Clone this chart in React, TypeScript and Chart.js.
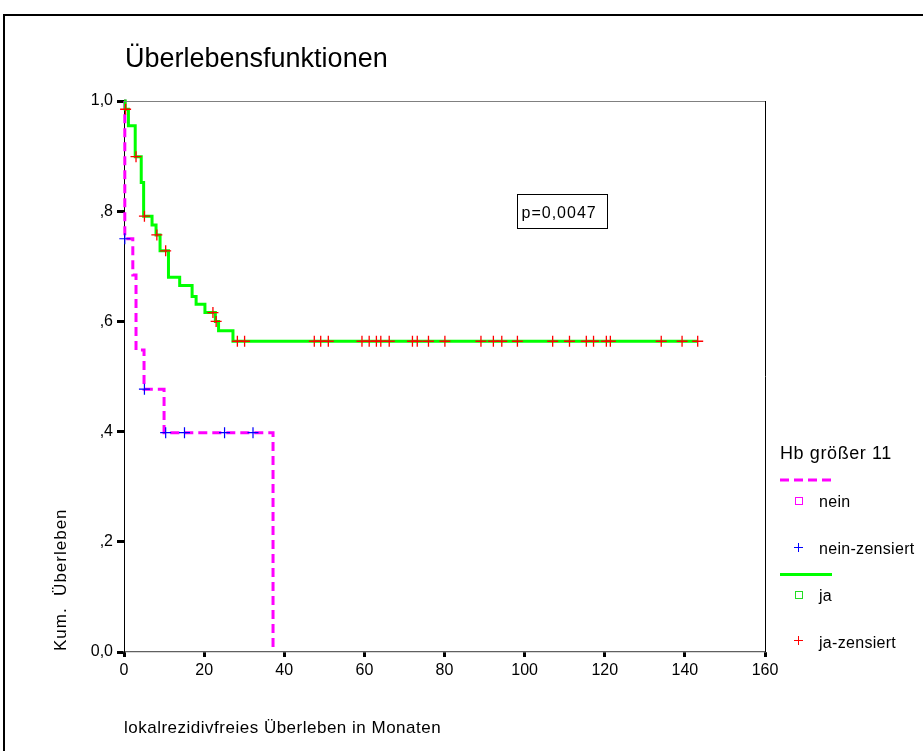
import React, { useEffect, useRef } from "react";
import { Chart, registerables } from "chart.js";

Chart.register(...registerables);

const FONT = "'Liberation Sans', Arial, Helvetica, sans-serif";

const TITLE = "Überlebensfunktionen";
const X_TITLE = "lokalrezidivfreies Überleben in Monaten";
const Y_TITLE = "Kum.  Überleben";
const LEGEND_TITLE = "Hb größer 11";
const P_TEXT = "p=0,0047";
const LEGEND_ITEMS = ["nein", "nein-zensiert", "ja", "ja-zensiert"];

const xTicks = [0, 20, 40, 60, 80, 100, 120, 140, 160];
const yTicks = [0, 0.2, 0.4, 0.6, 0.8, 1.0];
const yTickLabels = ["0,0", ",2", ",4", ",6", ",8", "1,0"];

// Hb größer 11 = nein
const neinTimes = [0, 0.2, 2.2, 3.0, 5.0, 10.0, 37.2];
const neinSurv = [1, 0.75, 0.684, 0.548, 0.477, 0.398, 0];
const neinCensTimes = [0.2, 5.1, 10.4, 15.1, 25.1, 32.2];
const neinCensSurv = [0.75, 0.477, 0.398, 0.398, 0.398, 0.398];

// Hb größer 11 = ja
const jaTimes = [0, 0.3, 1.1, 2.8, 4.3, 4.9, 7.0, 8.0, 9.0, 11.1, 13.9, 17.0, 18.0, 20.2, 22.8, 23.6, 27.2, 143.2];
const jaSurv = [1, 0.985, 0.955, 0.899, 0.852, 0.791, 0.775, 0.757, 0.728, 0.68, 0.665, 0.645, 0.631, 0.616, 0.6, 0.583, 0.564, 0.564];
const jaCensTimes = [
  0.4, 3.0, 5.1, 8.2, 10.4, 22.2, 23.0, 28.3, 30.1, 47.5, 49.1, 51.0, 59.4, 61.2, 63.0, 64.1, 66.2,
  72.0, 73.2, 76.0, 80.1, 89.1, 92.2, 94.3, 98.2, 107.0, 111.2, 115.4, 117.2, 120.4, 121.4, 134.1, 139.3, 143.2,
];
const jaCensSurv = [
  0.985, 0.899, 0.791, 0.757, 0.728, 0.616, 0.6, 0.564, 0.564, 0.564, 0.564, 0.564, 0.564, 0.564, 0.564, 0.564, 0.564,
  0.564, 0.564, 0.564, 0.564, 0.564, 0.564, 0.564, 0.564, 0.564, 0.564, 0.564, 0.564, 0.564, 0.564, 0.564, 0.564, 0.564,
];

const MAGENTA = "#ff00ff";
const GREEN = "#00ff00";
const RED = "#ff0000";
const BLUE = "#0000ff";

const pts = (xs: number[], ys: number[]) => xs.map((x, i) => ({ x, y: ys[i] }));

const decorPlugin = {
  id: "decor",
  afterDraw(chart: any) {
    const ctx = chart.ctx as CanvasRenderingContext2D;
    const a = chart.chartArea;
    const xs = chart.scales.x;
    const ys = chart.scales.y;
    ctx.save();
    // outer frame
    ctx.fillStyle = "#000";
    ctx.fillRect(3, 14, 920, 2);
    ctx.fillRect(3, 14, 2, 737);
    // plot frame top and right
    ctx.strokeStyle = "#808080";
    ctx.lineWidth = 1.2;
    ctx.beginPath();
    ctx.moveTo(a.left, a.top + 0.5);
    ctx.lineTo(a.right, a.top + 0.5);
    ctx.stroke();
    ctx.strokeStyle = "#000";
    ctx.lineWidth = 1;
    ctx.beginPath();
    ctx.moveTo(a.right + 0.5, a.top);
    ctx.lineTo(a.right + 0.5, a.bottom);
    ctx.stroke();

    // title
    ctx.fillStyle = "#000";
    ctx.textAlign = "left";
    ctx.textBaseline = "alphabetic";
    ctx.font = `27px ${FONT}`;
    ctx.fillText(TITLE, 125, 67);

    // x title
    (ctx as any).letterSpacing = "0.5px";
    ctx.font = `17px ${FONT}`;
    ctx.fillText(X_TITLE, 124, 733);

    // y title
    ctx.save();
    ctx.translate(66, 651);
    ctx.rotate(-Math.PI / 2);
    (ctx as any).letterSpacing = "1px";
    ctx.font = `17px ${FONT}`;
    ctx.fillText(Y_TITLE, 0, 0);
    ctx.restore();

    // p-value box
    const bx = Math.round(xs.getPixelForValue(98.2)) + 0.5;
    const by = Math.round(ys.getPixelForValue(0.831)) + 0.5;
    ctx.strokeStyle = "#000";
    ctx.lineWidth = 1;
    ctx.strokeRect(bx, by, 90, 34);
    (ctx as any).letterSpacing = "1px";
    ctx.font = `16px ${FONT}`;
    ctx.fillText(P_TEXT, bx + 4, by + 23);

    // legend
    (ctx as any).letterSpacing = "0.6px";
    ctx.font = `18px ${FONT}`;
    ctx.fillText(LEGEND_TITLE, 780, 459);

    ctx.setLineDash([9, 5]);
    ctx.strokeStyle = MAGENTA;
    ctx.lineWidth = 3;
    ctx.beginPath();
    ctx.moveTo(780, 480);
    ctx.lineTo(832, 480);
    ctx.stroke();
    ctx.setLineDash([]);

    ctx.strokeStyle = GREEN;
    ctx.beginPath();
    ctx.moveTo(780, 574.5);
    ctx.lineTo(832, 574.5);
    ctx.stroke();

    // squares
    ctx.lineWidth = 1;
    ctx.strokeStyle = MAGENTA;
    ctx.strokeRect(795.5, 497.5, 7, 7);
    ctx.strokeStyle = "#22dd22";
    ctx.strokeRect(795.5, 591.5, 7, 7);

    // crosses
    const cross = (cx: number, cy: number, col: string) => {
      ctx.strokeStyle = col;
      ctx.lineWidth = 1;
      ctx.beginPath();
      ctx.moveTo(cx - 4.5, cy);
      ctx.lineTo(cx + 4.5, cy);
      ctx.moveTo(cx, cy - 4.5);
      ctx.lineTo(cx, cy + 4.5);
      ctx.stroke();
    };
    cross(798.5, 547.5, BLUE);
    cross(798.5, 640.5, RED);

    ctx.fillStyle = "#000";
    (ctx as any).letterSpacing = "0.3px";
    ctx.font = `16px ${FONT}`;
    ctx.fillText(LEGEND_ITEMS[0], 819, 507);
    ctx.fillText(LEGEND_ITEMS[1], 819, 554);
    ctx.fillText(LEGEND_ITEMS[2], 819, 601);
    ctx.fillText(LEGEND_ITEMS[3], 819, 648);
    (ctx as any).letterSpacing = "0px";
    ctx.restore();
  },
};

export default function App() {
  const ref = useRef<HTMLCanvasElement | null>(null);

  useEffect(() => {
    if (!ref.current) return;
    const chart = new Chart(ref.current, {
      type: "scatter",
      data: {
        datasets: [
          {
            label: "ja-zensiert",
            data: pts(jaCensTimes, jaCensSurv),
            pointStyle: "cross",
            pointRadius: 5.5,
            borderColor: RED,
            backgroundColor: RED,
            borderWidth: 1.3,
            showLine: false,
            clip: false,
            order: 0,
          },
          {
            label: "nein-zensiert",
            data: pts(neinCensTimes, neinCensSurv),
            pointStyle: "cross",
            pointRadius: 5.5,
            borderColor: BLUE,
            backgroundColor: BLUE,
            borderWidth: 1.2,
            showLine: false,
            clip: false,
            order: 0,
          },
          {
            label: "ja",
            data: pts(jaTimes, jaSurv),
            showLine: true,
            stepped: true,
            borderColor: GREEN,
            backgroundColor: GREEN,
            borderWidth: 3,
            pointRadius: 0,
            fill: false,
            clip: 4,
            order: 1,
          },
          {
            label: "nein",
            data: pts(neinTimes, neinSurv),
            showLine: true,
            stepped: true,
            borderColor: MAGENTA,
            backgroundColor: MAGENTA,
            borderWidth: 3,
            borderDash: [9, 5],
            pointRadius: 0,
            fill: false,
            clip: 4,
            order: 2,
          },
        ] as any,
      },
      options: {
        responsive: false,
        animation: false,
        devicePixelRatio: 1,
        events: [],
        layout: { padding: { top: 101, right: 158, left: 0, bottom: 0 } },
        plugins: {
          legend: { display: false },
          tooltip: { enabled: false },
          title: { display: false },
        },
        scales: {
          x: {
            type: "linear",
            min: 0,
            max: 160,
            afterFit(s: any) {
              s.height = 99;
            },
            afterBuildTicks(s: any) {
              s.ticks = xTicks.map((v) => ({ value: v }));
            },
            ticks: {
              color: "#000",
              font: { family: FONT, size: 16 },
              padding: 4,
              autoSkip: false,
              maxRotation: 0,
              callback: (v: any) => String(v),
            },
            grid: {
              drawOnChartArea: false,
              drawTicks: true,
              tickLength: 5,
              tickWidth: 3,
              tickColor: "#000",
            },
            border: { color: "#606060", width: 1.2 },
          },
          y: {
            type: "linear",
            min: 0,
            max: 1,
            afterFit(s: any) {
              s.width = 124;
            },
            afterBuildTicks(s: any) {
              s.ticks = yTicks.map((v) => ({ value: v }));
            },
            ticks: {
              color: "#000",
              font: { family: FONT, size: 16 },
              padding: 4,
              autoSkip: false,
              callback: (_v: any, i: number) => yTickLabels[i],
            },
            grid: {
              drawOnChartArea: false,
              drawTicks: true,
              tickLength: 7,
              tickWidth: 3,
              tickColor: "#000",
            },
            border: { color: "#000", width: 1 },
          },
        },
      } as any,
      plugins: [decorPlugin],
    });
    return () => chart.destroy();
  }, []);

  return (
    <div style={{ position: "fixed", left: 0, top: 0, width: 923, height: 751, background: "#fff" }}>
      <canvas ref={ref} width={923} height={751} style={{ display: "block", width: 923, height: 751 }} />
    </div>
  );
}
